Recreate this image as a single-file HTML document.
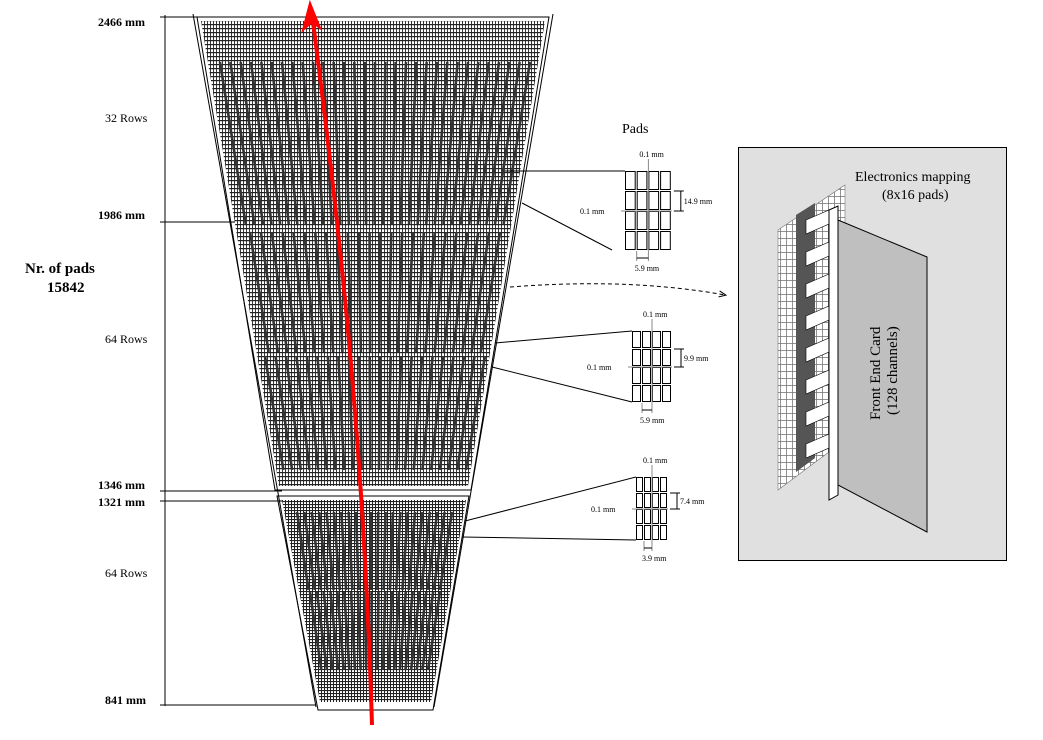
<!DOCTYPE html>
<html><head><meta charset="utf-8"><style>
body{margin:0;background:#fff}
svg{display:block;font-family:"Liberation Serif",serif}
</style></head><body>
<svg id="s" width="1043" height="740" viewBox="0 0 1043 740">
<defs>
<pattern id="pg" width="3" height="4" patternUnits="userSpaceOnUse"><rect width="3" height="4" fill="#fff"/><rect width="3" height="1.2" fill="#222"/><rect width="0.9" height="4" fill="#222"/></pattern>
<pattern id="pg2" width="3" height="3" patternUnits="userSpaceOnUse"><rect width="3" height="3" fill="#fff"/><rect width="3" height="1.1" fill="#222"/><rect width="1" height="3" fill="#222"/></pattern>
<pattern id="eg" width="6" height="7" patternUnits="userSpaceOnUse"><rect width="6" height="7" fill="#fff"/><rect width="6" height="0.8" fill="#777"/><rect width="0.8" height="7" fill="#777"/></pattern>
<marker id="ah" markerWidth="8" markerHeight="8" refX="6" refY="4" orient="auto"><path d="M0,1 L7,4 L0,7" fill="none" stroke="#000"/></marker>
</defs>
<g font-size="12">
<text x="98" y="26" font-weight="bold">2466 mm</text>
<text x="105" y="122">32 Rows</text>
<text x="98" y="219" font-weight="bold">1986 mm</text>
<text x="105" y="343">64 Rows</text>
<text x="98" y="489" font-weight="bold">1346 mm</text>
<text x="98" y="506" font-weight="bold">1321 mm</text>
<text x="105" y="577">64 Rows</text>
<text x="105" y="704" font-weight="bold">841 mm</text>
</g>
<text x="25" y="273" font-size="15" font-weight="bold">Nr. of pads</text>
<text x="47" y="292" font-size="15" font-weight="bold">15842</text>
<g stroke="#000" stroke-width="1">
<line x1="165" y1="15" x2="165" y2="706"/>
<line x1="160" y1="17" x2="200" y2="17"/>
<line x1="160" y1="222" x2="240" y2="222"/>
<line x1="160" y1="491" x2="282" y2="491"/>
<line x1="160" y1="501" x2="284" y2="501"/>
<line x1="160" y1="705" x2="316" y2="705"/>
</g>
<g fill="none" stroke="#000">
<line x1="193" y1="14" x2="316" y2="707"/>
<line x1="553" y1="14" x2="434" y2="707"/>
<polygon points="197,17 549,17 471,490 275,490"/>
<polygon points="277,496 469,496 433,710 318,710"/>
</g>
<polygon points="201,21 545,21 468,486 279,486" fill="url(#pg)"/>
<polygon points="282,500 466,500 431,702 320,702" fill="url(#pg2)"/>
<g id="strips" stroke="#333" stroke-width="2.6"></g>
<path d="M372,725 C364,450 340,230 313,22" stroke="#f00" stroke-width="4" fill="none"/>
<path d="M303,30 L310,3 L320,28 L312,22 Z" fill="#f00" stroke="#f00" stroke-width="2"/>
<text x="622" y="133" font-size="14">Pads</text>
<g id="pads" stroke="#000" fill="#fff" font-size="8"></g>
<path d="M510,287 C600,280 670,285 725,295" stroke="#000" fill="none" stroke-dasharray="4,3" marker-end="url(#ah)"/>
<rect x="738.5" y="147.5" width="268" height="413" fill="#e0e0e0" stroke="#000"/>
<text x="855" y="181" font-size="14">Electronics mapping</text>
<text x="882" y="199" font-size="14">(8x16 pads)</text>
<polygon points="778,230 845,185 845,440 778,490" fill="url(#eg)" stroke="#777" stroke-width="0.6"/>
<polygon points="796,215 815,203 815,458 796,472" fill="#555"/>
<g id="slats"></g>
<polygon points="829,210 838,206 838,495 829,500" fill="#fff" stroke="#000"/>
<polygon points="838,220 927,257 927,532 838,485" fill="#bfbfbf" stroke="#000"/>
<text transform="translate(880,420) rotate(-90)" font-size="15">Front End Card</text>
<text transform="translate(897,415) rotate(-90)" font-size="15">(128 channels)</text>
</svg>
<script>
const ns="http://www.w3.org/2000/svg";
const apexX=373, apexY=1025;
const bands=[[62,224,220,530,31],[232,352,250,500,24],[356,470,265,485,22],[512,590,297,452,22],[592,670,310,440,20]];
const g=document.getElementById('strips');
bands.forEach(b=>{const [y1,y2,xl,xr,n]=b;for(let i=0;i<n;i++){const x=xl+(xr-xl)*i/(n-1);const t=(y2-apexY)/(y1-apexY);const xb=apexX+(x-apexX)*t;const l=document.createElementNS(ns,'line');l.setAttribute('x1',x);l.setAttribute('y1',y1);l.setAttribute('x2',xb);l.setAttribute('y2',y2);


g.appendChild(l);}});
const pads=document.getElementById('pads');
function txt(x,y,s){const t=document.createElementNS(ns,'text');t.setAttribute('x',x);t.setAttribute('y',y);t.setAttribute('stroke','none');t.setAttribute('fill','#000');t.textContent=s;


pads.appendChild(t);}
function line(a,b,c,d,col){const l=document.createElementNS(ns,'line');l.setAttribute('x1',a);l.setAttribute('y1',b);l.setAttribute('x2',c);l.setAttribute('y2',d);if(col)l.setAttribute('stroke',col);


pads.appendChild(l);}
const grids=[[625,171,9.7,18,['0.1 mm','14.9 mm','5.9 mm'],[505,171],[522,203],[625,171],[612,250]],[632,331,8,16,['0.1 mm','9.9 mm','5.9 mm'],[495,343],[492,367],[632,331],[632,402]],[636,477,6,14,['0.1 mm','7.4 mm','3.9 mm'],[465,521],[462,537],[636,477],[636,540]]];
grids.forEach(G=>{const [x,y,w,h,lab,a1,a2,b1,b2]=G;line(a1[0],a1[1],b1[0],b1[1]);line(a2[0],a2[1],b2[0],b2[1]);
for(let r=0;r<4;r++)for(let c=0;c<4;c++){const R=document.createElementNS(ns,'rect');R.setAttribute('x',x+c*(w+2)+0.5);R.setAttribute('y',y+r*(h+2)+0.5);R.setAttribute('width',w);R.setAttribute('height',h);


pads.appendChild(R);}
const W=4*(w+2),H=4*(h+2);const cx=x+2*(w+2);const cy=y+2*(h+2);
line(cx,y-12,cx,y+H+10,'#888');line(cx-w-2,y+H,cx-w-2,y+H+10,'#888');
line(x-4,cy,x+W,cy,'#888');
line(x+W+2,y+h+2,x+W+12,y+h+2);line(x+W+2,cy,x+W+12,cy);line(x+W+9,y+h+2,x+W+9,cy);
line(cx-w-2,y+H+7,cx,y+H+7);
txt(cx-9,y-14,lab[0]);txt(x-45,cy+3,lab[0]);txt(x+W+12,(y+h+2+cy)/2+3,lab[1]);txt(cx-w-4,y+H+20,lab[2]);});
const sl=document.getElementById('slats');
for(let i=0;i<8;i++){const y=222+i*32;const p=document.createElementNS(ns,'polygon');p.setAttribute('points',`806,${y-2} 829,${y-12} 829,${y+2} 806,${y+12}`);p.setAttribute('fill','#fff');p.setAttribute('stroke','#000');p.setAttribute('stroke-width','0.6');


sl.appendChild(p);}
</script>
</body></html>
